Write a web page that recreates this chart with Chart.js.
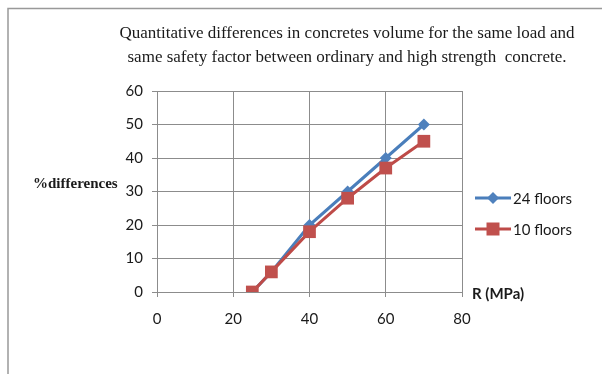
<!DOCTYPE html>
<html>
<head>
<meta charset="utf-8">
<script src="https://cdn.jsdelivr.net/npm/chart.js@4/dist/chart.umd.min.js"></script>
<style>
  html, body { margin: 0; padding: 0; background: #ffffff; }
  #wrap { position: relative; width: 602px; height: 374px; }
</style>
</head>
<body>
<div id="wrap"><canvas id="c" width="602" height="374"></canvas></div>
<script>
const titleLines = ["Quantitative differences in concretes volume for the same load and",
                    "same safety factor between ordinary and high strength  concrete."];
const xTitle = "R (MPa)";
const yTitle = "%differences";
const seriesNames = ["24 floors", "10 floors"];
const strengths = [25, 30, 40, 50, 60, 70];
const floors24 = [0, 6, 20, 30, 40, 50];
const floors10 = [0, 6, 18, 28, 37, 45];

const BLUE = "#4A7EBB", BLUE_PT = "#4F81BD";
const RED = "#BE4B48", RED_PT = "#C0504D";
const GRID = "#8C8C8C";

const toPts = ys => strengths.map((x, i) => ({ x: x, y: ys[i] }));

const decor = {
  id: "decor",
  afterDraw(chart) {
    const ctx = chart.ctx;
    ctx.save();
    // outer frame (top and left edges)
    ctx.strokeStyle = "#999999";
    ctx.lineWidth = 1.5;
    ctx.beginPath();
    ctx.moveTo(8, 374);
    ctx.lineTo(8, 8.5);
    ctx.lineTo(602, 8.5);
    ctx.stroke();

    // title
    ctx.fillStyle = "#1a1a1a";
    ctx.font = "17px 'Liberation Serif'";
    ctx.textAlign = "center";
    ctx.textBaseline = "middle";
    ctx.fillText(titleLines[0], 347, 34);
    ctx.fillText(titleLines[1], 347, 58);

    // y axis title (horizontal)
    ctx.font = "bold 15px 'Liberation Serif'";
    ctx.textAlign = "left";
    ctx.fillText(yTitle, 33, 184);

    // x axis title
    ctx.font = "bold 15px Lato";
    ctx.fillText(xTitle, 472, 294);

    // legend
    const ds = chart.data.datasets;
    const legY = [198, 229];
    ds.forEach((d, i) => {
      const y = legY[i];
      ctx.strokeStyle = d.borderColor;
      ctx.lineWidth = 3;
      ctx.beginPath();
      ctx.moveTo(475, y);
      ctx.lineTo(511, y);
      ctx.stroke();
      ctx.fillStyle = d.pointBackgroundColor;
      ctx.beginPath();
      if (i === 0) {
        const r = 6;
        ctx.moveTo(493 - r, y); ctx.lineTo(493, y - r);
        ctx.lineTo(493 + r, y); ctx.lineTo(493, y + r);
        ctx.closePath();
      } else {
        const s = 6.5;
        ctx.rect(493 - s, y - s, 2 * s, 2 * s);
      }
      ctx.fill();
      ctx.fillStyle = "#1a1a1a";
      ctx.font = "15px Lato";
      ctx.textAlign = "left";
      ctx.fillText(d.label, 513, y + 1);
    });
    ctx.restore();
  }
};

new Chart(document.getElementById("c"), {
  type: "scatter",
  data: {
    datasets: [
      {
        label: seriesNames[0],
        data: toPts(floors24),
        showLine: true,
        borderColor: BLUE,
        borderWidth: 3,
        pointStyle: "rectRot",
        pointRadius: 6,
        pointBackgroundColor: BLUE_PT,
        pointBorderColor: BLUE_PT,
        pointBorderWidth: 0,
        order: 2
      },
      {
        label: seriesNames[1],
        data: toPts(floors10),
        showLine: true,
        borderColor: RED,
        borderWidth: 3,
        pointStyle: "rect",
        pointRadius: 9,
        pointBackgroundColor: RED_PT,
        pointBorderColor: RED_PT,
        pointBorderWidth: 0,
        order: 1
      }
    ]
  },
  options: {
    responsive: false,
    animation: false,
    devicePixelRatio: 1,
    layout: { padding: { left: 117, right: 140, top: 91, bottom: 42 } },
    plugins: {
      legend: { display: false },
      title: { display: false },
      tooltip: { enabled: false }
    },
    scales: {
      x: {
        type: "linear",
        min: 0, max: 80,
        afterFit: s => { s.height = 40; },
        border: { color: GRID, width: 1 },
        grid: { color: GRID, lineWidth: 1, tickLength: 5, drawTicks: true },
        ticks: { stepSize: 20, color: "#1a1a1a", font: { family: "Lato", size: 15 }, padding: 13 }
      },
      y: {
        type: "linear",
        min: 0, max: 60,
        afterFit: s => { s.width = 40; },
        border: { color: GRID, width: 1 },
        grid: { color: GRID, lineWidth: 1, tickLength: 5 },
        ticks: { stepSize: 10, color: "#1a1a1a", font: { family: "Lato", size: 15 }, padding: 9 }
      }
    }
  },
  plugins: [decor]
});
</script>
</body>
</html>
